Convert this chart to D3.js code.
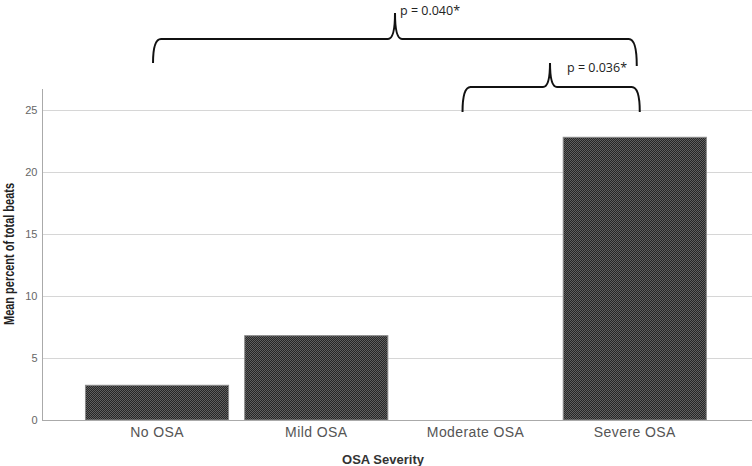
<!DOCTYPE html>
<html><head><meta charset="utf-8">
<script src="https://cdn.jsdelivr.net/npm/d3@7"></script>
<style>html,body{margin:0;padding:0;background:#fff;}svg{display:block;}</style>
</head><body>
<script>
const categories = ["No OSA", "Mild OSA", "Moderate OSA", "Severe OSA"];
const values = [2.8, 6.8, 0, 22.8];
const yTicks = [0, 5, 10, 15, 20, 25];
const comparisons = [
  {from: "No OSA", to: "Severe OSA", label: "p = 0.040*"},
  {from: "Moderate OSA", to: "Severe OSA", label: "p = 0.036*"}
];
const xTitle = "OSA Severity";
const yTitle = "Mean percent of total beats";

const W = 752, H = 466;
const svg = d3.select("body").append("svg").attr("width", W).attr("height", H);

const defs = svg.append("defs");
const pat = defs.append("pattern").attr("id", "chk").attr("patternUnits", "userSpaceOnUse")
  .attr("width", 2).attr("height", 2);
pat.append("rect").attr("width", 2).attr("height", 2).attr("fill", "#262626");
pat.append("rect").attr("x", 0).attr("y", 0).attr("width", 1).attr("height", 1).attr("fill", "#606060");
pat.append("rect").attr("x", 1).attr("y", 1).attr("width", 1).attr("height", 1).attr("fill", "#606060");

const plotLeft = 42, plotRight = 752, plotTop = 89, base = 420;
const x = d3.scaleBand().domain(categories).range([77.4, 714.4]).paddingInner(0.095).paddingOuter(0.0475);
const y = d3.scaleLinear().domain([0, 25]).range([base, 110]);

// gridlines
svg.append("g").selectAll("line").data(yTicks.filter(d => d > 0)).join("line")
  .attr("x1", plotLeft).attr("x2", plotRight)
  .attr("y1", d => y(d) + 0.5).attr("y2", d => y(d) + 0.5)
  .attr("stroke", "#d6d6d6").attr("stroke-width", 1);

// y axis
const yAxis = d3.axisLeft(y).tickValues(yTicks).tickSize(0).tickPadding(5);
const gy = svg.append("g").attr("transform", `translate(${plotLeft + 0.5},0)`).call(yAxis);
gy.select(".domain").remove();
gy.selectAll("text").attr("font-family", "Liberation Sans, Arial, sans-serif")
  .attr("font-size", 11).attr("fill", "#666");
svg.append("line").attr("x1", plotLeft + 0.5).attr("x2", plotLeft + 0.5)
  .attr("y1", plotTop).attr("y2", base).attr("stroke", "#aaa");

// bars
svg.append("g").selectAll("rect").data(categories.map((c, i) => ({c, v: values[i]}))).join("rect")
  .attr("x", d => x(d.c) + 0.5).attr("width", x.bandwidth() - 1)
  .attr("y", d => y(d.v)).attr("height", d => base - y(d.v))
  .attr("fill", "url(#chk)").attr("stroke", d => d.v > 0 ? "#8a8a8a" : "none").attr("stroke-width", 1);

// x axis
svg.append("line").attr("x1", plotLeft).attr("x2", plotRight)
  .attr("y1", base + 0.5).attr("y2", base + 0.5).attr("stroke", "#aaa");
const xAxis = d3.axisBottom(x).tickSize(0).tickPadding(7);
const gx = svg.append("g").attr("transform", `translate(0,${base})`).call(xAxis);
gx.select(".domain").remove();
gx.selectAll("text").attr("font-family", "Liberation Sans, Arial, sans-serif")
  .attr("font-size", 14).attr("fill", "#555").attr("letter-spacing", "0.4px");

// axis titles
svg.append("text").attr("x", 383).attr("y", 464).attr("text-anchor", "middle")
  .attr("font-family", "Liberation Sans, Arial, sans-serif").attr("font-weight", "bold")
  .attr("font-size", 13).attr("fill", "#333").text(xTitle);
svg.append("text").attr("transform", "translate(14,254) rotate(-90)").attr("text-anchor", "middle")
  .attr("font-family", "Liberation Sans Narrow, Arial Narrow, Liberation Sans, sans-serif")
  .attr("font-weight", "bold").attr("font-size", 14.5).attr("fill", "#222")
  .attr("textLength", 142).attr("lengthAdjust", "spacingAndGlyphs").text(yTitle);

// braces
const braceGeom = [
  {x1: x(comparisons[0].from) + x.bandwidth() / 2 - 4, x2: x(comparisons[0].to) + x.bandwidth() / 2 + 2,
   xm: 395, yh: 39, yb1: 63, yb2: 66, yt: 13, tx: 400, ty: 15},
  {x1: x(comparisons[1].from) + x.bandwidth() / 2 - 13, x2: x(comparisons[1].to) + x.bandwidth() / 2 + 5,
   xm: 550, yh: 87, yb1: 112, yb2: 112, yt: 63, tx: 567, ty: 72}
];
function bracePath(g) {
  const r = 8, r2 = 7;
  return `M${g.x1},${g.yb1} Q${g.x1},${g.yh} ${g.x1 + r},${g.yh} L${g.xm - r2},${g.yh} ` +
    `Q${g.xm},${g.yh} ${g.xm},${g.yt} Q${g.xm},${g.yh} ${g.xm + r2},${g.yh} ` +
    `L${g.x2 - r},${g.yh} Q${g.x2},${g.yh} ${g.x2},${g.yb2}`;
}
const gb = svg.append("g");
gb.selectAll("path").data(braceGeom).join("path").attr("d", bracePath)
  .attr("fill", "none").attr("stroke", "#111").attr("stroke-width", 2);
gb.selectAll("text").data(braceGeom).join("text")
  .attr("x", d => d.tx).attr("y", d => d.ty)
  .attr("font-family", "Open Sans, Noto Sans, sans-serif").attr("font-size", 12.5).attr("fill", "#222")
  .text((d, i) => comparisons[i].label);
</script>
</body></html>
